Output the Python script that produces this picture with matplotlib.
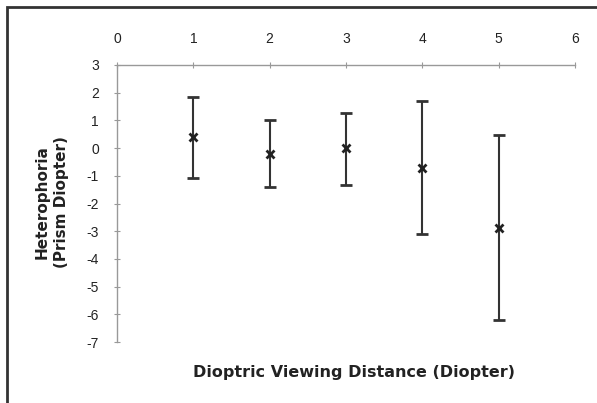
import numpy as np
import matplotlib.pyplot as plt
from matplotlib.patches import Rectangle

plt.rcParams['font.family'] = ['Liberation Sans', 'DejaVu Sans']
plt.rcParams['axes.unicode_minus'] = False

# data
distance = [1, 2, 3, 4, 5]
mean = [0.4, -0.22, 0.02, -0.72, -2.9]
upper = [1.85, 1.0, 1.27, 1.7, 0.47]
lower = [-1.07, -1.4, -1.33, -3.1, -6.2]

mean = np.array(mean)
err = [mean - np.array(lower), np.array(upper) - mean]

fig = plt.figure(figsize=(5.97, 4.03), dpi=100)
ax = fig.add_axes([117/597, 1 - 342/403, (575 - 117)/597, (342 - 65)/403])

# border round the whole chart
fig.patches.append(Rectangle((7/597, -0.1), 1.2, 1 - 7/403 + 0.1, transform=fig.transFigure,
                             fill=False, edgecolor='#333333', linewidth=2))

ax.errorbar(distance, mean, yerr=err, fmt='x', color='#222222', ecolor='#333333',
            elinewidth=1.5, capsize=4, capthick=1.5, markersize=6, markeredgewidth=2)

ax.set_xlim(0, 6)
ax.set_ylim(-7, 3)
ax.set_xticks(range(0, 7))
ax.set_yticks(range(-7, 4))
ax.xaxis.tick_top()
ax.spines['right'].set_visible(False)
ax.spines['bottom'].set_visible(False)
for s in ['top', 'left']:
    ax.spines[s].set_color('#999999')
    ax.spines[s].set_linewidth(1)
ax.tick_params(axis='both', direction='inout', length=5, color='#999999', labelsize=10,
               labelcolor='#222222', pad=10.5)
ax.tick_params(axis='x', pad=11.5)

fig.text(354/597, 1 - 373/403, 'Dioptric Viewing Distance (Diopter)', ha='center', va='center',
         fontsize=11.5, fontweight='bold', color='#222222', family='DejaVu Sans')
fig.text(52/597, 1 - 202/403, 'Heterophoria\n(Prism Diopter)', ha='center', va='center',
         rotation=90, fontsize=11, fontweight='bold', color='#222222', linespacing=1.4,
         family='DejaVu Sans')

fig.savefig('out.png', dpi=100)
